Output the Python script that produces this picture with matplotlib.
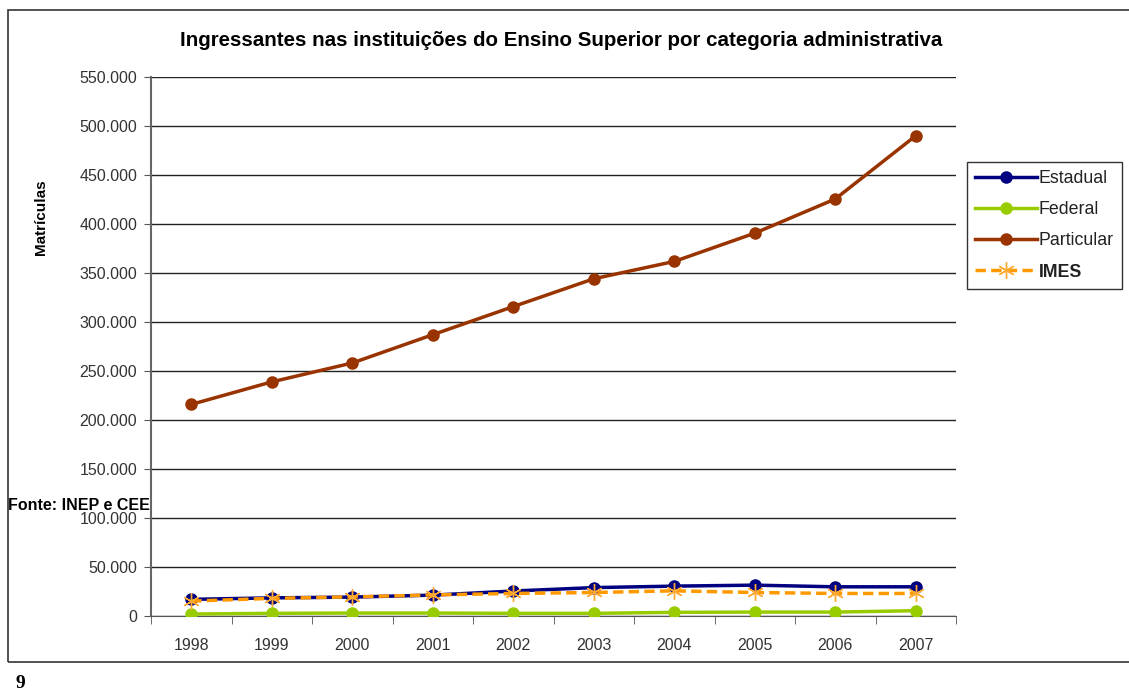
import matplotlib
matplotlib.use("Agg")
import matplotlib.pyplot as plt
from matplotlib.ticker import FuncFormatter, MultipleLocator, FixedLocator
from matplotlib.patches import Rectangle

plt.rcParams['font.family'] = ['Liberation Sans', 'DejaVu Sans']

# data
anos = ["1998", "1999", "2000", "2001", "2002", "2003", "2004", "2005", "2006", "2007"]
estadual = [16500, 18000, 18800, 20800, 25000, 28500, 30000, 31000, 29300, 29300]
federal = [1500, 2200, 2500, 2500, 2200, 2200, 3200, 3500, 3500, 4900]
particular = [215600, 238600, 257900, 286800, 315500, 343900, 361600, 390500, 425400, 490000]
imes = [14700, 17500, 19000, 21000, 22500, 23500, 25200, 23500, 22500, 22500]

fig = plt.figure(figsize=(11.29, 6.95), dpi=100)

# outer frame of the chart object
fig.patches.append(Rectangle((8 / 1129, 33 / 695), 1.0, 652 / 695, transform=fig.transFigure,
                             fill=False, edgecolor='#333333', linewidth=1.2))

ax = fig.add_axes([151 / 1129, 79.5 / 695, 805 / 1129, 538.5 / 695])
x = list(range(len(anos)))

ax.plot(x, estadual, color='#000080', lw=2.5, marker='o', ms=8, label='Estadual', zorder=4)
ax.plot(x, federal, color='#99CC00', lw=2.5, marker='o', ms=8, label='Federal', zorder=3)
ax.plot(x, particular, color='#993300', lw=2.5, marker='o', ms=8, label='Particular', zorder=4)
ax.plot(x, imes, color='#FF9900', lw=2.5, ls=(0, (3, 1.5)), marker=(6, 2, 0), ms=12, mew=1,
        mec='#FFAA33', label='IMES', zorder=5)

ax.set_xlim(-0.5, len(anos) - 0.5)
ax.set_ylim(0, 550000)
ax.yaxis.set_major_locator(MultipleLocator(50000))
ax.yaxis.set_major_formatter(FuncFormatter(lambda v, p: f"{int(v):,}".replace(",", ".")))
ax.set_xticks(x)
ax.set_xticklabels(anos)
ax.xaxis.set_minor_locator(FixedLocator([i - 0.5 for i in range(len(anos) + 1)]))
ax.tick_params(axis='x', which='major', length=0, pad=16, labelsize=11.5, labelcolor='#333333')
ax.tick_params(axis='x', which='minor', length=6, color='#555555', direction='out')
ax.tick_params(axis='y', length=5, color='#555555', labelsize=11.5, labelcolor='#333333', pad=5)

ax.grid(axis='y', color='#222222', lw=1)
ax.set_axisbelow(True)
for s in ['top', 'right']:
    ax.spines[s].set_visible(False)
ax.spines['left'].set_color('#666666')
ax.spines['bottom'].set_color('#555555')
ax.spines['left'].set_linewidth(1.5)

ax.set_ylabel('Matrículas', fontsize=11, fontweight='bold')
ax.yaxis.set_label_coords(-0.128, 0.74)

fig.text(561 / 1129, 1 - 40 / 695, 'Ingressantes nas instituições do Ensino Superior por categoria administrativa',
         ha='center', va='center', fontsize=14.8, fontweight='bold')

leg = ax.legend(loc='upper left', bbox_to_anchor=(967 / 1129, 1 - 162 / 695), bbox_transform=fig.transFigure,
                frameon=True, fancybox=False, edgecolor='black', fontsize=12.8, handlelength=3.5,
                borderpad=0.45, labelspacing=0.8, handletextpad=0.1, borderaxespad=0)
leg.get_frame().set_linewidth(1)
for t in leg.get_texts():
    t.set_color('#222222')
leg.get_texts()[3].set_fontweight('bold')

fig.text(8 / 1129, 1 - 505 / 695, 'Fonte: INEP e CEE', ha='left', va='center', fontsize=11.5, fontweight='bold')
fig.text(20 / 1129, 1 - 683 / 695, '9', ha='center', va='center', fontsize=14, fontweight='bold',
         family=['Liberation Serif', 'DejaVu Serif'])

fig.savefig('out.png', dpi=100)
